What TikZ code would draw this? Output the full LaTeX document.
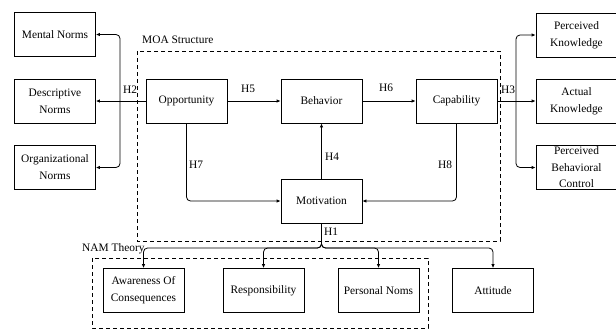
\documentclass[tikz,border=0pt]{standalone}
\usepackage{fontspec}
\setmainfont{Liberation Serif}
\usetikzlibrary{arrows.meta}
\tikzset{
  box/.style={draw, line width=0.8pt, minimum width=81pt, minimum height=44pt,
    inner xsep=2pt, inner ysep=0pt, align=center, font=\fontsize{11.4}{17}\selectfont},
  lbl/.style={inner sep=1pt, font=\fontsize{11.4}{13}\selectfont},
  arr/.style={line width=0.8pt, -{Latex[length=4pt,width=3.5pt]}, rounded corners=4pt},
  grp/.style={dashed, line width=0.8pt, dash pattern=on 4pt off 3pt}
}
\begin{document}
\begin{tikzpicture}[x=1pt,y=-1pt]
        \useasboundingbox (0,0) rectangle (616,330);
        \draw[grp] (137,51) rectangle (500,241);
        \draw[grp] (92,258) rectangle (428,328);
        \node[lbl, anchor=west] (moa) at (141,40) {MOA Structure};
        \node[lbl, anchor=west] (nam) at (81,249) {NAM Theory};

        \node[box] (mental) at (55,34.5) {Mental Norms};
        \node[box] (descriptive) at (55,101) {Descriptive\\Norms};
        \node[box] (organizational) at (55,167.5) {Organizational\\Norms};

        \node[box] (opportunity) at (186.5,101) {Opportunity};
        \node[box] (behavior) at (321.5,101) {Behavior};
        \node[box] (capability) at (456.5,101) {Capability};
        \node[box] (motivation) at (321.5,201) {Motivation};

        \node[box] (perceived) at (576.5,35) {Perceived\\Knowledge};
        \node[box] (actual) at (576.5,101) {Actual\\Knowledge};
        \node[box, font=\fontsize{11.4}{16.5}\selectfont] (control) at (576.5,167.5) {Perceived\\Behavioral\\Control};

        \node[box] (awareness) at (143.5,290.5) {Awareness Of\\Consequences};
        \node[box] (responsibility) at (263.5,290.5) {Responsibility};
        \node[box] (personal) at (378.5,290.5) {Personal Noms};
        \node[box] (attitude) at (493,290.5) {Attitude};

        \coordinate (bus2) at (120,101);
        \coordinate (bus3) at (516,101);
        \coordinate (bus1) at (321.5,248);

        \draw[arr] (opportunity.west) -- (descriptive.east);
        \draw[arr] (bus2) |- (mental.east);
        \draw[arr] (bus2) |- (organizational.east);
        \node[lbl] (h2) at (130,90) {H2};

        \draw[arr] (capability.east) -- (actual.west);
        \draw[arr] (bus3) |- (perceived.west);
        \draw[arr] (bus3) |- (control.west);
        \node[lbl] (h3) at (508,90) {H3};

        \draw[arr] (opportunity.east) -- (behavior.west);
        \node[lbl] (h5) at (248,89) {H5};
        \draw[arr] (behavior.east) -- (capability.west);
        \node[lbl] (h6) at (386,88) {H6};
        \draw[arr] (motivation.north) -- (behavior.south);
        \node[lbl] (h4) at (332,157) {H4};
        \draw[arr] (opportunity.south) |- (motivation.west);
        \node[lbl] (h7) at (196,165) {H7};
        \draw[arr] (capability.south) |- (motivation.east);
        \node[lbl] (h8) at (445,165) {H8};

        \draw[arr] (motivation.south) -- (bus1) -| (awareness.north);
        \draw[arr] (motivation.south) -- (bus1) -| (responsibility.north);
        \draw[arr] (motivation.south) -- (bus1) -| (personal.north);
        \draw[arr] (motivation.south) -- (bus1) -| (attitude.north);
        \node[lbl] (h1) at (331,232) {H1};

      \end{tikzpicture}
\end{document}
